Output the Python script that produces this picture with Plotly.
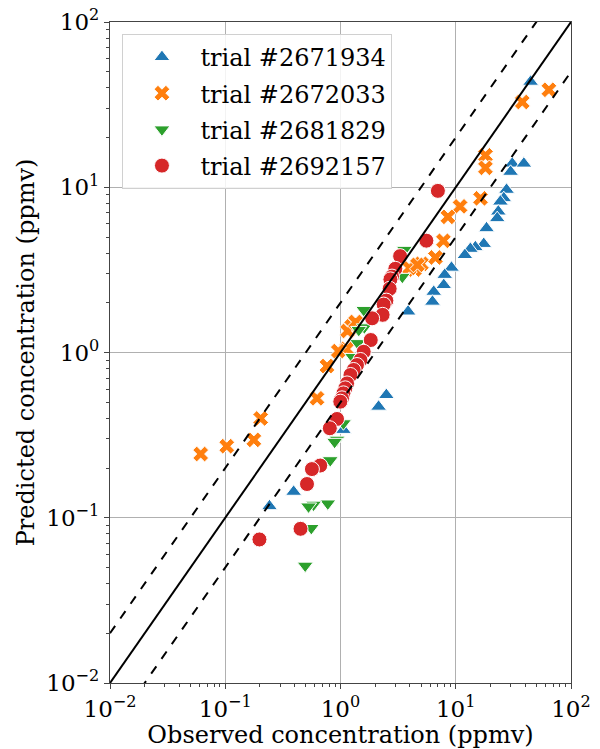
import plotly.graph_objects as go

# ---- data ----
trial_names = ["trial #2671934", "trial #2672033", "trial #2681829", "trial #2692157"]

blue_obs = [44.6, 30.9, 39.0, 29.9, 27.6, 26.1, 24.4, 23.4, 22.9, 18.5, 17.5, 14.8, 13.4, 12.0,
            9.18, 8.02, 7.87, 6.44, 6.28, 3.86, 2.50, 2.14, 1.06, 0.392, 0.242]
blue_pred = [43.5, 13.9, 13.9, 12.4, 9.65, 8.59, 8.19, 7.13, 6.50, 5.65, 4.54, 4.34, 4.24, 3.89,
             3.26, 2.95, 2.56, 2.33, 2.03, 1.77, 0.553, 0.470, 0.340, 0.1436, 0.1175]

orange_obs = [64.3, 37.8, 18.1, 18.1, 16.4, 10.9, 8.55, 7.82, 6.66, 5.04, 4.38, 3.96, 4.65,
              1.25, 1.15, 1.35, 1.13, 0.957, 0.763, 0.625, 0.203, 0.177, 0.103, 0.0612]
orange_pred = [38.9, 32.8, 15.6, 13.1, 8.57, 7.66, 6.62, 4.74, 3.76, 3.44, 3.18, 3.25, 3.39,
               1.44, 1.35, 1.53, 1.05, 1.02, 0.828, 0.528, 0.399, 0.296, 0.271, 0.243]

green_obs = [3.58, 3.44, 1.59, 1.61, 1.44, 1.41, 1.27, 1.06, 0.933, 0.889, 0.815, 0.776,
             0.584, 0.528, 0.558, 0.494]
green_pred = [4.18, 2.87, 1.81, 1.42, 1.37, 1.14, 0.94, 0.373, 0.297, 0.288, 0.223, 0.122,
              0.120, 0.117, 0.0867, 0.0513]

red_obs = [7.0, 5.56, 3.29, 2.99, 2.80, 2.71, 2.67, 2.50, 2.37, 2.32, 1.88, 1.83, 1.59, 1.49,
           1.39, 1.30, 1.22, 1.14, 1.10, 1.06, 1.03, 0.996, 0.933, 0.808, 0.667, 0.565, 0.512,
           0.450, 0.198]
red_pred = [9.51, 4.75, 3.83, 3.21, 2.88, 2.77, 2.43, 2.06, 1.95, 1.69, 1.61, 1.19, 1.01, 0.901,
            0.840, 0.784, 0.731, 0.650, 0.607, 0.566, 0.528, 0.504, 0.396, 0.348, 0.207, 0.197,
            0.160, 0.0857, 0.0739]

# reference lines: 1:1 and factor-of-two
line_x = [0.01, 100]
line_factors = [1.0, 2.0, 0.5]

tick_vals = [0.01, 0.1, 1, 10, 100]
tick_text = ["10<sup>\u22122</sup>", "10<sup>\u22121</sup>", "10<sup>0</sup>",
             "10<sup>1</sup>", "10<sup>2</sup>"]

series = [
    (blue_obs, blue_pred, "#1f77b4", "triangle-up", 14),
    (orange_obs, orange_pred, "#ff7f0e", "x", 14),
    (green_obs, green_pred, "#2ca02c", "triangle-down", 14),
    (red_obs, red_pred, "#d62728", "circle", 15),
]

FONT = "DejaVu Serif"

fig = go.Figure()
for i, (xs, ys, col, sym, sz) in enumerate(series):
    fig.add_trace(go.Scatter(
        x=xs, y=ys, mode="markers", name=trial_names[i], legendgroup=f"g{i}",
        marker=dict(color=col, symbol=sym, size=sz, line=dict(color="white", width=1)),
    ))

for f in line_factors:
    fig.add_trace(go.Scatter(
        x=line_x, y=[v * f for v in line_x], mode="lines", showlegend=False,
        line=dict(color="black", width=2, dash="solid" if f == 1.0 else "dash"),
        hoverinfo="skip",
    ))

axis_common = dict(
    type="log", range=[-2, 2], tickmode="array", tickvals=tick_vals, ticktext=tick_text,
    showgrid=True, gridcolor="#b0b0b0", gridwidth=1,
    showline=True, linecolor="#444444", linewidth=1.2, mirror=True,
    ticks="outside", ticklen=5, tickcolor="#444444",
    tickfont=dict(family=FONT, size=23, color="black"),
    minor=dict(ticks="outside", ticklen=3, tickcolor="#444444", showgrid=False, dtick="D1"),
    zeroline=False, automargin=False,
)

fig.update_layout(
    width=600, height=749,
    margin=dict(l=110, r=29, t=22, b=66),
    plot_bgcolor="white", paper_bgcolor="white",
    font=dict(family=FONT, color="black"),
    xaxis=dict(axis_common, title=dict(text="Observed concentration (ppmv)",
                                       font=dict(family=FONT, size=24), standoff=4)),
    yaxis=dict(axis_common, title=dict(text="Predicted concentration (ppmv)",
                                       font=dict(family=FONT, size=24), standoff=4)),
    legend=dict(x=0.027, y=0.982, xanchor="left", yanchor="top",
                bgcolor="rgba(255,255,255,0.85)", bordercolor="#d0d0d0", borderwidth=1,
                font=dict(family=FONT, size=24), itemwidth=67, tracegroupgap=2),
    showlegend=True,
)

fig.write_html("out.html", post_script="document.body.style.margin='0px';",
               config={"displayModeBar": False})
